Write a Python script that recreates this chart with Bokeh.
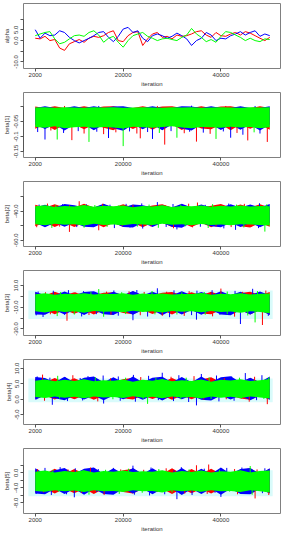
from bokeh.plotting import figure
from bokeh.layouts import column
from bokeh.models import FixedTicker, Range1d
from bokeh.embed import file_html
from bokeh.resources import INLINE

# ---------------- data ----------------
chain_colors = ["red", "blue", "#00ff00"]

# alpha: trace of three chains (every 1000 iterations, 2000..50000)
iter_alpha = list(range(2000, 50001, 1000))
alpha_red = [1.1, 0.8, 2.0, 0.0, 0.5, -3.5, -4.6, -1.5, -0.5, 0.5, -0.8, 1.1, 2.0, 1.5, 2.3, 3.8, 4.6,
             0.0, -0.5, 2.3, 3.8, 4.2, -2.3, 0.8, 3.1, 3.8, 1.5, 2.0, 0.8, 2.6, 2.0, 2.3, 3.1, 4.2,
             4.6, 2.6, 1.5, 3.8, 2.3, 2.0, 3.1, 3.8, 2.6, 4.2, 3.5, 2.3, 1.1, 0.0, 1.5]
alpha_blue = [5.1, 1.1, 3.5, 2.3, 2.6, 4.6, 3.8, 1.5, 0.0, -1.1, 0.0, 1.1, 2.3, 3.8, 4.2, 1.5, -0.5,
              2.0, 5.4, 6.2, 3.8, 4.6, 1.1, -0.5, 2.3, 3.1, 2.3, 1.1, 2.0, 3.5, 2.3, 0.8, -2.3, 0.0,
              1.1, 3.8, 2.6, 0.0, 1.1, 0.8, 2.3, 3.1, 4.2, 2.6, 3.8, 4.6, 2.0, 3.1, 2.3]
alpha_green = [2.3, 3.1, 3.8, 4.2, 0.8, -1.5, -0.8, 0.8, 2.3, 2.6, 2.0, 3.8, 4.6, 2.6, -0.8, 1.1, 2.0,
               -0.8, -3.1, 0.0, 2.3, 3.1, 3.8, 2.0, 1.1, 0.0, 0.8, 1.1, 0.5, 0.0, 1.5, 2.6, 5.7, 3.1,
               1.5, -0.5, 0.5, -0.8, 2.0, 4.2, 3.8, 2.6, 1.5, 0.0, 1.1, 0.0, -0.5, 0.8, 0.5]

# dense chains: extent of each chain's bulk (every 2000 iterations)
iter_band = list(range(2000, 50001, 2000))

b1_core_hi = [-0.003, -0.002, -0.004, -0.002, -0.003, -0.004, -0.002, -0.003, -0.002, -0.004, -0.003, -0.002, -0.003,
              -0.004, -0.002, -0.003, -0.002, -0.004, -0.003, -0.002, -0.003, -0.004, -0.002, -0.003, -0.002]
b1_core_lo = [-0.068, -0.071, -0.066, -0.072, -0.069, -0.067, -0.071, -0.068, -0.070, -0.073, -0.067, -0.069, -0.071,
              -0.068, -0.066, -0.070, -0.072, -0.068, -0.069, -0.071, -0.067, -0.070, -0.068, -0.072, -0.069]
b1_red_hi = [0.000, -0.005, 0.001, -0.005, -0.005, 0.001, -0.005, 0.000, 0.001, -0.005, -0.005, 0.001, -0.005,
             0.000, 0.001, -0.005, -0.005, 0.001, -0.005, 0.000, 0.001, -0.005, -0.005, 0.001, -0.005]
b1_red_lo = [-0.074, -0.060, -0.078, -0.060, -0.060, -0.076, -0.060, -0.071, -0.079, -0.060, -0.075, -0.060, -0.077,
             -0.060, -0.060, -0.078, -0.060, -0.073, -0.076, -0.060, -0.079, -0.060, -0.074, -0.060, -0.077]
b1_blue_hi = [-0.005, 0.001, -0.005, -0.005, 0.001, -0.005, 0.001, -0.005, 0.000, 0.001, -0.005, -0.005, 0.001,
              -0.005, -0.005, 0.001, 0.000, -0.005, 0.001, -0.005, -0.005, 0.001, -0.005, -0.005, 0.001]
b1_blue_lo = [-0.060, -0.075, -0.060, -0.080, -0.060, -0.060, -0.079, -0.060, -0.072, -0.081, -0.060, -0.076, -0.060,
              -0.079, -0.060, -0.074, -0.080, -0.060, -0.060, -0.078, -0.060, -0.077, -0.060, -0.080, -0.060]

b2_core_hi = [-36.6, -36.0, -37.2, -36.4, -36.9, -35.8, -37.0, -36.3, -36.7, -36.1, -37.3, -36.5, -36.8,
              -36.0, -37.1, -36.4, -36.6, -36.2, -37.0, -36.3, -36.8, -36.1, -36.9, -36.4, -36.7]
b2_core_lo = [-49.0, -49.6, -48.6, -49.3, -48.9, -49.8, -48.7, -49.4, -49.1, -49.7, -48.8, -49.2, -49.5,
              -48.7, -49.3, -49.0, -49.6, -48.8, -49.4, -49.1, -49.7, -48.9, -49.2, -49.5, -49.9]
b2_red_hi = [-35.6, -37.5, -35.2, -37.5, -37.5, -35.0, -37.5, -35.5, -37.5, -35.3, -37.5, -37.5, -36.1,
             -35.2, -37.5, -35.6, -37.5, -37.5, -36.3, -35.1, -37.5, -35.5, -37.5, -35.3, -37.5]
b2_red_lo = [-50.4, -48.0, -50.8, -48.0, -50.9, -48.0, -48.0, -51.0, -48.0, -50.7, -48.0, -51.1, -48.0,
             -48.0, -50.9, -48.0, -50.8, -48.0, -51.0, -48.0, -48.0, -50.4, -51.2, -48.0, -50.7]
b2_blue_hi = [-37.5, -35.7, -37.5, -35.1, -36.0, -37.5, -37.5, -35.0, -37.5, -37.5, -35.4, -35.9, -37.5,
              -36.1, -37.5, -35.0, -37.5, -35.4, -37.5, -37.5, -35.2, -37.5, -35.4, -37.5, -35.1]
b2_blue_lo = [-48.0, -51.0, -48.0, -50.7, -48.0, -50.6, -51.1, -48.0, -48.0, -50.9, -51.2, -48.0, -50.8,
              -48.0, -50.6, -51.3, -48.0, -48.0, -50.3, -51.0, -48.0, -50.9, -48.0, -51.1, -48.0]

b3_core_hi = [2.0, 2.8, 1.6, 2.5, 1.9, 3.0, 1.7, 2.4, 2.1, 2.9, 1.5, 2.6, 2.0, 2.7, 1.8, 2.3, 2.2, 3.1, 1.6,
              2.5, 2.0, 2.8, 1.7, 2.4, 2.6]
b3_core_lo = [-13.8, -14.8, -13.2, -14.3, -13.6, -15.0, -13.4, -14.1, -13.9, -14.6, -13.3, -14.4, -13.7,
              -14.9, -13.5, -14.2, -13.8, -14.7, -13.4, -14.5, -13.9, -15.1, -13.6, -14.3, -15.5]
b3_red_hi = [3.6, 1.0, 4.2, 1.0, 3.9, 1.0, 1.0, 3.3, 3.8, 1.0, 4.5, 1.0, 1.0, 3.4, 4.1, 1.0, 3.9, 1.0, 4.3,
             1.0, 1.0, 3.2, 4.4, 1.0, 4.0]
b3_red_lo = [-15.8, -12.5, -16.4, -12.5, -16.1, -12.5, -16.6, -12.5, -12.5, -15.4, -16.5, -12.5, -16.2,
             -12.5, -16.7, -12.5, -12.5, -15.8, -16.4, -12.5, -16.3, -12.5, -16.8, -12.5, -16.9]
b3_blue_hi = [4.2, 1.0, 1.0, 4.6, 1.0, 4.0, 4.8, 1.0, 4.3, 1.0, 4.9, 1.0, 4.4, 1.0, 1.0, 4.7, 1.0, 4.1, 1.0,
              4.8, 1.0, 4.2, 1.0, 4.6, 1.0]
b3_blue_lo = [-16.6, -17.0, -12.5, -16.8, -12.5, -17.2, -12.5, -16.5, -17.1, -12.5, -16.9, -12.5, -12.5,
              -17.3, -12.5, -16.7, -12.5, -17.0, -12.5, -16.6, -17.4, -12.5, -16.8, -12.5, -17.2]

b4_core_hi = [6.0, 6.4, 5.8, 6.3, 5.9, 6.5, 5.8, 6.2, 6.0, 6.4, 5.7, 6.3, 6.0, 6.6, 5.8, 6.2, 5.9, 6.4, 5.7,
              6.3, 6.1, 6.5, 5.9, 6.2, 6.6]
b4_core_lo = [0.7, 0.4, 0.9, 0.5, 0.8, 0.3, 0.9, 0.6, 0.7, 0.4, 1.0, 0.5, 0.8, 0.3, 0.9, 0.6, 0.7, 0.2, 0.9,
              0.5, 0.8, 0.4, 0.9, 0.6, 0.2]
b4_red_hi = [6.7, 5.5, 6.9, 5.5, 6.8, 5.5, 7.0, 5.5, 5.5, 6.5, 7.0, 5.5, 6.7, 5.5, 6.9, 5.5, 5.5, 6.4, 7.1,
             5.5, 6.8, 5.5, 6.9, 5.5, 7.0]
b4_red_lo = [0.1, 1.2, -0.1, 1.2, 0.0, 1.2, -0.2, 1.2, 1.2, 0.3, -0.1, 1.2, 0.1, 1.2, -0.2, 1.2, 0.0, 1.2,
             -0.1, 1.2, 1.2, 0.2, -0.2, 1.2, -0.1]
b4_blue_hi = [7.2, 6.9, 5.5, 7.3, 5.5, 7.0, 7.4, 5.5, 7.1, 5.5, 7.4, 5.5, 7.0, 7.3, 5.5, 7.2, 5.5, 7.4, 5.5,
              7.1, 7.5, 5.5, 7.0, 5.5, 7.4]
b4_blue_lo = [-0.2, 1.2, 0.3, -0.3, 1.2, -0.1, 1.2, -0.3, 1.2, 0.0, 1.2, -0.2, 1.2, -0.4, 1.2, 0.0, 1.2,
              -0.2, -0.4, 1.2, -0.1, 1.2, -0.3, 1.2, -0.2]

b5_core_hi = [0.3, 0.6, 0.1, 0.5, 0.2, 0.7, 0.1, 0.5, 0.3, 0.6, 0.2, 0.4, 0.3, 0.7, 0.1, 0.5, 0.2, 0.6, 0.1,
              0.4, 0.3, 0.7, 0.1, 0.5, 0.6]
b5_core_lo = [-4.8, -5.0, -4.6, -4.9, -4.7, -5.1, -4.6, -4.9, -4.8, -5.1, -4.6, -4.9, -4.8, -5.2, -4.6, -4.9,
              -4.7, -5.0, -4.6, -4.9, -4.8, -5.1, -4.6, -4.9, -5.2]
b5_red_hi = [0.9, -0.3, 1.1, -0.3, 1.0, -0.3, 1.2, -0.3, -0.3, 0.7, 1.1, -0.3, 0.9, -0.3, 1.2, -0.3, 1.0, -0.3,
             1.1, -0.3, -0.3, 0.7, 1.2, -0.3, 1.1]
b5_red_lo = [-5.3, -4.2, -5.5, -4.2, -5.4, -4.2, -5.6, -4.2, -4.2, -5.1, -5.5, -4.2, -5.3, -4.2, -5.6, -4.2,
             -5.4, -4.2, -5.5, -4.2, -4.2, -5.1, -5.6, -4.2, -5.4]
b5_blue_hi = [1.2, -0.3, 0.7, 1.3, -0.3, 1.1, 1.4, -0.3, 1.2, -0.3, 1.3, -0.3, 1.2, -0.3, -0.3, 1.3, -0.3, 1.1,
              -0.3, 1.4, -0.3, 1.0, 1.3, -0.3, 1.2]
b5_blue_lo = [-5.5, -5.7, -4.2, -5.6, -4.2, -5.8, -4.2, -5.6, -5.8, -4.2, -5.5, -4.2, -5.7, -4.2, -4.2, -5.9,
              -4.2, -5.6, -4.2, -5.8, -4.2, -5.6, -5.7, -4.2, -5.5]

# excursions beyond the bulk: iteration, value, chain (0=red 1=blue 2=green)
b1_sp_iter = [2500, 4000, 5200, 6500, 7800, 9500, 10800, 12000, 13000, 14600, 16000, 17000, 18500, 20000, 21300,
              22800, 23500, 25000, 26000, 27400, 28500, 29800, 31000, 32500, 33600, 35000, 36400, 37800, 39000,
              40500, 42000, 43300, 44500, 45500, 46800, 48000, 49500, 8000, 15000, 27000, 34000, 41000, 47000]
b1_sp_val = [-0.085, -0.110, -0.080, -0.110, -0.088, -0.112, -0.082, -0.090, -0.118, -0.084, -0.092, -0.105, -0.086,
             -0.132, -0.083, -0.090, -0.106, -0.085, -0.108, -0.088, -0.127, -0.082, -0.104, -0.089, -0.084, -0.117,
             -0.087, -0.091, -0.108, -0.083, -0.104, -0.088, -0.094, -0.113, -0.086, -0.090, -0.118,
             0.002, 0.002, 0.002, 0.003, 0.002, 0.002]
b1_sp_chain = [1, 1, 0, 2, 1, 0, 1, 0, 2, 1, 0, 1, 0, 2, 1, 0, 0, 1, 1, 2, 0, 1, 2, 0, 1, 0, 1, 0, 2, 1, 1, 0,
               1, 0, 2, 1, 0, 0, 1, 0, 1, 0, 1]

b2_sp_iter = [2800, 4500, 6200, 7600, 9000, 11000, 12500, 14200, 15800, 17300, 19000, 20600, 22000, 23800, 25300,
              27000, 28600, 30200, 31800, 33400, 35200, 36800, 38300, 40000, 41600, 43200, 44800, 46300, 47900,
              49400,
              2300, 3800, 5400, 7000, 9000, 10500, 12000, 13600, 15000, 16700, 18200, 19800, 21400, 22900, 24000,
              25700, 27200, 28800, 30300, 31000, 32700, 34200, 35800, 37400, 39000, 40600, 42100, 43000, 44700,
              46200, 47700, 49000]
b2_sp_val = [-35.5, -34.8, -35.9, -35.2, -36.0, -33.2, -35.4, -35.8, -34.9, -35.6, -36.1, -35.0, -35.7, -34.7,
             -35.5, -33.8, -35.9, -35.1, -35.6, -34.9, -34.1, -35.7, -35.2, -35.8, -34.8, -35.5, -35.0, -35.9,
             -34.6, -35.3,
             -51.0, -50.2, -51.5, -50.6, -54.2, -50.9, -51.3, -50.4, -53.1, -50.8, -51.6, -50.3, -51.2, -50.6,
             -51.9, -50.5, -51.4, -50.8, -51.7, -52.5, -50.4, -51.1, -50.7, -51.5, -50.5, -51.8, -50.9, -52.8,
             -51.2, -50.6, -51.6, -54.0]
b2_sp_chain = [1, 0, 2, 1, 0, 0, 1, 2, 0, 1, 2, 1, 0, 1, 2, 1, 0, 1, 2, 0, 0, 1, 2, 0, 1, 2, 0, 1, 1, 2,
               0, 1, 2, 0, 0, 1, 2, 1, 0, 2, 1, 0, 1, 2, 1, 0, 2, 1, 0, 1, 2, 0, 1, 2, 0, 1, 0, 1, 2, 0, 1, 2]

b3_sp_iter = [2600, 4100, 5700, 7200, 8800, 10300, 11900, 13400, 15000, 16600, 18100, 19700, 21200, 22800, 24300,
              25900, 27000, 28900, 30400, 32000, 33500, 35100, 36600, 38200, 40000, 41300, 42900, 44400, 46500,
              47500, 49200,
              2200, 3600, 5100, 6500, 8000, 8500, 10000, 11500, 13000, 14500, 16000, 17500, 19000, 20500, 22000,
              23500, 25000, 26500, 28000, 29500, 31000, 32500, 34000, 35000, 36800, 38300, 39800, 41300, 42800,
              44000, 45500, 47000, 48500, 49700]
b3_sp_val = [4.5, 3.8, 5.2, 4.0, 5.8, 3.6, 4.9, 4.2, 6.8, 4.4, 5.5, 3.9, 4.7, 5.9, 4.1, 5.0, 7.5, 4.3, 5.6, 3.8,
             4.8, 5.3, 4.0, 5.7, 7.2, 4.5, 5.1, 4.2, 7.0, 4.9, 5.4,
             -17.5, -19.0, -16.5, -18.2, -17.0, -22.5, -16.8, -18.5, -17.2, -16.4, -18.8, -16.9, -17.8, -16.3,
             -22.0, -17.4, -18.6, -16.6, -17.9, -19.2, -16.7, -18.0, -17.3, -21.5, -16.9, -18.4, -17.1, -16.5,
             -18.7, -25.5, -17.6, -24.0, -26.4, -18.0]
b3_sp_chain = [1, 0, 1, 2, 1, 0, 1, 2, 2, 0, 1, 2, 0, 1, 0, 2, 1, 0, 1, 2, 0, 1, 2, 1, 0, 2, 1, 0, 1, 2, 0,
               1, 1, 0, 2, 1, 0, 2, 1, 0, 1, 2, 0, 1, 2, 1, 0, 1, 2, 0, 1, 2, 0, 1, 1, 2, 0, 1, 2, 0, 1, 2, 2, 0, 1]

b4_sp_iter = [2400, 3500, 5000, 6600, 8100, 9700, 11200, 12800, 14300, 15900, 17400, 19000, 20500, 22100, 23600,
              25200, 26700, 28000, 29800, 31400, 32900, 34500, 36000, 37600, 39100, 40700, 42200, 43800, 45000,
              46900, 48400, 49800,
              2300, 3900, 5500, 7000, 8600, 10100, 11700, 13200, 14800, 16000, 17900, 19400, 21000, 22500, 24100,
              25000, 27200, 28700, 30300, 31800, 33400, 35000, 36500, 38000, 39600, 41100, 42700, 44200, 45800,
              47300, 48800, 49500]
b4_sp_val = [7.4, 8.0, 7.0, 7.6, 7.2, 7.8, 6.9, 7.5, 7.1, 7.7, 6.8, 7.4, 7.0, 7.9, 7.2, 7.6, 6.9, 8.6, 7.3, 7.8,
             7.0, 7.5, 8.2, 7.1, 7.7, 6.9, 7.4, 7.0, 8.5, 7.3, 7.8, 7.2,
             0.0, -0.5, -1.8, 0.2, -0.6, 0.1, -0.4, 0.3, -0.7, -1.4, 0.0, -0.5, 0.2, -0.8, 0.1, -1.5, -0.3, 0.2,
             -0.6, 0.0, -0.9, -2.0, -0.2, 0.1, -0.7, 0.0, -0.5, 0.2, -0.8, -0.3, 0.1, -1.6]
b4_sp_chain = [1, 0, 1, 2, 1, 0, 1, 1, 2, 1, 0, 1, 2, 1, 0, 1, 2, 1, 0, 1, 2, 0, 1, 2, 1, 0, 1, 2, 1, 0, 1, 2,
               1, 0, 1, 2, 1, 0, 1, 2, 0, 1, 2, 1, 0, 1, 2, 2, 1, 0, 1, 2, 1, 1, 0, 2, 1, 0, 1, 2, 0, 1, 2, 0]

b5_sp_iter = [2500, 4000, 5600, 7100, 8700, 10200, 11800, 13300, 14900, 16400, 18000, 19500, 21100, 22000, 24200,
              25700, 27300, 28800, 30400, 31900, 33500, 35000, 36600, 37500, 39700, 41200, 42800, 44300, 46000,
              47400, 49000,
              2200, 3700, 5300, 6800, 8400, 10000, 11500, 13000, 14600, 16100, 17700, 19200, 20800, 22300, 23900,
              25400, 27000, 28500, 30000, 31000, 32600, 34100, 35700, 37200, 38800, 40000, 41800, 43400, 44900,
              46400, 47000, 48500, 49800]
b5_sp_val = [1.0, 1.3, 0.8, 1.5, 0.9, 1.2, 0.7, 1.4, 1.0, 0.8, 1.3, 0.9, 1.1, 1.9, 0.8, 1.4, 1.0, 1.2, 0.7, 1.5,
             0.9, 2.0, 1.1, 2.2, 0.8, 1.3, 1.0, 1.4, 1.8, 0.9, 1.2,
             -5.6, -5.2, -5.9, -5.0, -5.7, -6.5, -5.3, -5.8, -5.1, -5.9, -5.2, -5.6, -5.0, -5.8, -5.3, -6.0, -5.1,
             -5.7, -5.2, -7.0, -5.5, -5.9, -5.1, -5.6, -5.3, -6.4, -5.0, -5.7, -5.2, -5.8, -6.8, -5.4, -5.9]
b5_sp_chain = [0, 1, 2, 1, 0, 1, 2, 0, 1, 2, 1, 0, 2, 1, 0, 1, 2, 0, 1, 1, 2, 0, 1, 0, 2, 1, 0, 1, 2, 0, 1,
               1, 0, 1, 2, 1, 1, 0, 2, 1, 0, 1, 2, 0, 1, 2, 1, 0, 1, 2, 1, 0, 1, 2, 0, 1, 1, 2, 0, 1, 2, 0, 1, 0]

# centre of each dense band (excursions are drawn from here)
band_mid = [-0.035, -42.5, -6.0, 3.3, -2.2]

# light haze behind the bands of beta[3..5]
shade_iter = [600, 50600]
shade_lo = [None, None, -20.9, -1.0, -6.2]
shade_hi = [None, None, 5.5, 6.7, 0.7]

# axes
x_ticks = [2000, 20000, 40000]
panel_names = ["alpha", "beta[1]", "beta[2]", "beta[3]", "beta[4]", "beta[5]"]
y_limits = [(-13.1, 17.4), (-0.17, 0.047), (-64.2, -19.7), (-36.1, 23.9), (-8.2, 12.9), (-10.8, 6.45)]
y_ticks = [[-10, -5, 0, 5, 10], [-0.15, -0.1, -0.05, 0.0], [-60, -50, -40, -30],
           [-30, -20, -10, 0, 10], [-5, 0, 5, 10], [-8, -6, -4, -2, 0, 2]]
y_tick_labels = [["-10.0", " ", "0.0", "5.0", " "], ["-0.15", "-0.1", "-0.05", " "],
                 ["-60.0", " ", "-40.0", " "], ["-30.0", " ", "-10.0", " ", "10.0"],
                 ["-5.0", "0.0", "5.0", "10.0"], ["-8.0", " ", "-4.0", " ", "0.0", " "]]

bands = [
    [(b1_red_lo, b1_red_hi), (b1_blue_lo, b1_blue_hi), (b1_core_lo, b1_core_hi)],
    [(b2_red_lo, b2_red_hi), (b2_blue_lo, b2_blue_hi), (b2_core_lo, b2_core_hi)],
    [(b3_red_lo, b3_red_hi), (b3_blue_lo, b3_blue_hi), (b3_core_lo, b3_core_hi)],
    [(b4_red_lo, b4_red_hi), (b4_blue_lo, b4_blue_hi), (b4_core_lo, b4_core_hi)],
    [(b5_red_lo, b5_red_hi), (b5_blue_lo, b5_blue_hi), (b5_core_lo, b5_core_hi)],
]
spikes = [(b1_sp_iter, b1_sp_val, b1_sp_chain), (b2_sp_iter, b2_sp_val, b2_sp_chain),
          (b3_sp_iter, b3_sp_val, b3_sp_chain), (b4_sp_iter, b4_sp_val, b4_sp_chain),
          (b5_sp_iter, b5_sp_val, b5_sp_chain)]

FONT = "Liberation Sans"


def make_panel(i):
    lo, hi = y_limits[i]
    p = figure(width=284, height=89, x_range=Range1d(-400, 52200), y_range=Range1d(lo, hi),
               output_backend="svg", toolbar_location=None,
               min_border_left=2, min_border_right=4, min_border_top=3, min_border_bottom=0)
    p.grid.visible = False
    p.outline_line_color = "#808080"
    p.outline_line_width = 1
    p.background_fill_color = "white"
    p.border_fill_color = "white"

    xa = p.xaxis[0]
    xa.ticker = FixedTicker(ticks=x_ticks)
    xa.bounds = (x_ticks[0], x_ticks[-1])
    xa.axis_label = "iteration"
    ya = p.yaxis[0]
    ya.ticker = FixedTicker(ticks=y_ticks[i])
    ya.bounds = (y_ticks[i][0], y_ticks[i][-1])
    ya.major_label_overrides = {t: l for t, l in zip(y_ticks[i], y_tick_labels[i])}
    ya.major_label_orientation = "vertical"
    ya.axis_label = panel_names[i]
    for ax in (xa, ya):
        ax.axis_line_color = "#555555"
        ax.major_tick_line_color = "#555555"
        ax.minor_tick_line_color = None
        ax.major_tick_in = 0
        ax.major_tick_out = 3
        ax.major_label_standoff = 1
        ax.axis_label_standoff = 1
        ax.major_label_text_font = FONT
        ax.major_label_text_font_size = "6px"
        ax.major_label_text_color = "#333333"
        ax.axis_label_text_font = FONT
        ax.axis_label_text_font_size = "6px"
        ax.axis_label_text_font_style = "normal"
        ax.axis_label_text_color = "#333333"
    return p


figs = []
p = make_panel(0)
for vals, c in zip([alpha_red, alpha_blue, alpha_green], chain_colors):
    p.line(iter_alpha, vals, line_color=c, line_width=1)
figs.append(p)

for k in range(5):
    p = make_panel(k + 1)
    if shade_lo[k] is not None:
        p.quad(left=shade_iter[0], right=shade_iter[1], bottom=shade_lo[k], top=shade_hi[k],
               fill_color="#d9fbfb", line_color=None)
    # red and blue chains' bulk, then long excursions, then the green chain on top
    for (blo, bhi), c in zip(bands[k][:2], chain_colors[:2]):
        p.varea(x=iter_band, y1=blo, y2=bhi, fill_color=c)
    s_it, s_val, s_ch = spikes[k]
    p.segment(x0=s_it, y0=[band_mid[k]] * len(s_it), x1=s_it, y1=s_val,
              line_color=[chain_colors[c] for c in s_ch], line_width=1)
    glo, ghi = bands[k][2]
    p.varea(x=iter_band, y1=glo, y2=ghi, fill_color=chain_colors[2])
    figs.append(p)

layout = column(*figs, spacing=0)
open("out.html", "w").write(file_html(layout, INLINE))
